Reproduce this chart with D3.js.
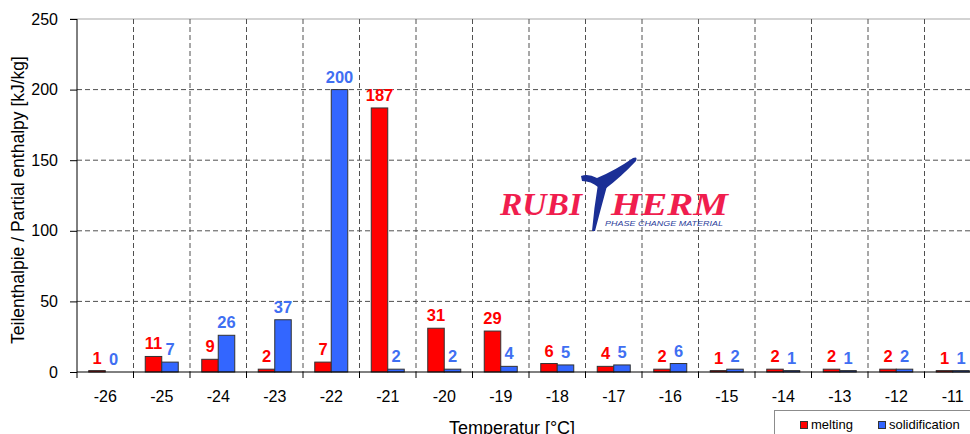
<!DOCTYPE html>
<html>
<head>
<meta charset="utf-8">
<script src="https://cdn.jsdelivr.net/npm/d3@7"></script>
<style>
  body { margin: 0; background: #fff; }
  svg { display: block; font-family: "Liberation Sans", Arial, sans-serif; }
</style>
</head>
<body>
<div id="container"></div>
<script>
// data
var temps = ["-26", "-25", "-24", "-23", "-22", "-21", "-20", "-19", "-18", "-17", "-16", "-15", "-14", "-13", "-12", "-11"];
var melting = [1, 11, 9, 2, 7, 187, 31, 29, 6, 4, 2, 1, 2, 2, 2, 1];
var solidification = [0, 7, 26, 37, 200, 2, 2, 4, 5, 5, 6, 2, 1, 1, 2, 1];
var yTicks = [0, 50, 100, 150, 200, 250];
var seriesNames = ["melting", "solidification"];

var barColor = { melting: "#ff0000", solidification: "#3366ff" };
var labelColor = { melting: "#ff0000", solidification: "#3f6ff2" };

var width = 970, height = 434;
var left = 77, top_ = 19, bottom = 372;

var svg = d3.select("#container").append("svg")
    .attr("width", width)
    .attr("height", height);

// categories run past the right edge of the window (the chart is cut there)
var x = d3.scaleBand()
    .domain(temps)
    .range([left, left + 16 * 56.5])
    .padding(0);

var y = d3.scaleLinear()
    .domain([0, 250])
    .range([bottom, top_]);

var half = 16.5;
var inner = d3.scaleBand()
    .domain(seriesNames)
    .range([x.bandwidth() / 2 - half, x.bandwidth() / 2 + half])
    .padding(0);

// horizontal grid
svg.append("g").selectAll("line")
    .data(yTicks.filter(function(d) { return d > 0 && d < 250; }))
    .enter().append("line")
    .attr("x1", left).attr("x2", width)
    .attr("y1", function(d) { return y(d); })
    .attr("y2", function(d) { return y(d); })
    .attr("stroke", "#505050")
    .attr("stroke-dasharray", "5,3");

// top border
svg.append("line")
    .attr("x1", 70).attr("x2", width)
    .attr("y1", y(250)).attr("y2", y(250))
    .attr("stroke", "#c4c4c4")
    .attr("stroke-width", 1.5);

// vertical dashed separators
svg.append("g").selectAll("line")
    .data(temps.slice(1))
    .enter().append("line")
    .attr("x1", function(d) { return x(d); })
    .attr("x2", function(d) { return x(d); })
    .attr("y1", y(250)).attr("y2", bottom)
    .attr("stroke", "#505050")
    .attr("stroke-dasharray", "5,3");

// logo
var logo = svg.append("g").attr("class", "logo");
logo.append("text")
    .attr("x", 500).attr("y", 215)
    .attr("textLength", 82).attr("lengthAdjust", "spacingAndGlyphs")
    .style("font-family", "'Liberation Serif', serif")
    .style("font-style", "italic").style("font-weight", "bold")
    .style("font-size", "32px")
    .attr("fill", "#f01e4e")
    .text("RUBI");
logo.append("text")
    .attr("x", 611).attr("y", 215)
    .attr("textLength", 117).attr("lengthAdjust", "spacingAndGlyphs")
    .style("font-family", "'Liberation Serif', serif")
    .style("font-style", "italic").style("font-weight", "bold")
    .style("font-size", "32px")
    .attr("fill", "#f01e4e")
    .text("HERM");
// the blue swoosh "T"
logo.append("path")
    .attr("d", "M581,176 Q588,173 597,178 Q616,170 633,158 Q638,156 636,161 Q621,177 605,189 L598,187 Q591,181 582,181 Z")
    .attr("fill", "#1b2f96");
logo.append("path")
    .attr("d", "M598,184 L607,186 Q601,208 595,231 L592,231 Q594,208 598,184 Z")
    .attr("fill", "#1b2f96");
logo.append("text")
    .attr("x", 605).attr("y", 226)
    .attr("textLength", 118).attr("lengthAdjust", "spacingAndGlyphs")
    .style("font-style", "italic")
    .style("font-size", "7.5px")
    .attr("fill", "#2b3c9a")
    .text("PHASE CHANGE MATERIAL");

// bars
var groups = svg.append("g").selectAll("g")
    .data(temps)
    .enter().append("g")
    .attr("transform", function(d) { return "translate(" + x(d) + ",0)"; });

groups.selectAll("rect")
    .data(function(d, i) {
        return [{ key: "melting", value: melting[i] }, { key: "solidification", value: solidification[i] }];
    })
    .enter().append("rect")
    .attr("x", function(d) { return inner(d.key); })
    .attr("y", function(d) { return y(d.value); })
    .attr("width", inner.bandwidth())
    .attr("height", function(d) { return bottom - y(d.value); })
    .attr("fill", function(d) { return barColor[d.key]; })
    .attr("stroke", function(d) { return d.value > 0 ? "#333" : "none"; })
    .attr("stroke-width", 1);

groups.selectAll("text")
    .data(function(d, i) {
        return [{ key: "melting", value: melting[i] }, { key: "solidification", value: solidification[i] }];
    })
    .enter().append("text")
    .attr("x", function(d) { return inner(d.key) + inner.bandwidth() / 2; })
    .attr("y", function(d) { return y(d.value) - 7; })
    .attr("text-anchor", "middle")
    .style("font-weight", "bold")
    .style("font-size", "16.5px")
    .attr("fill", function(d) { return labelColor[d.key]; })
    .text(function(d) { return d.value; });

// y axis
var yAxis = svg.append("g")
    .attr("transform", "translate(" + left + ",0)")
    .call(d3.axisLeft(y).tickValues(yTicks).tickSize(7).tickPadding(12));
yAxis.select(".domain").attr("stroke", "#000").attr("d", "M0," + y(250) + "V" + bottom);
yAxis.selectAll(".tick line").attr("stroke", "#000");
yAxis.selectAll(".tick text")
    .style("font-family", "'Liberation Sans', Arial, sans-serif")
    .style("font-size", "16px")
    .attr("fill", "#000");

// x axis line and ticks
svg.append("line")
    .attr("x1", left).attr("x2", width)
    .attr("y1", bottom).attr("y2", bottom)
    .attr("stroke", "#000");
svg.append("g").selectAll("line")
    .data(temps)
    .enter().append("line")
    .attr("x1", function(d) { return x(d); })
    .attr("x2", function(d) { return x(d); })
    .attr("y1", bottom).attr("y2", bottom + 6)
    .attr("stroke", "#000");
svg.append("g").selectAll("text")
    .data(temps)
    .enter().append("text")
    .attr("x", function(d) { return x(d) + x.bandwidth() / 2; })
    .attr("y", 402)
    .attr("text-anchor", "middle")
    .style("font-size", "16px")
    .text(function(d) { return d; });

// axis titles
svg.append("text")
    .attr("transform", "translate(24," + 200 + ") rotate(-90)")
    .attr("text-anchor", "middle")
    .style("font-size", "17.5px")
    .text("Teilenthalpie / Partial enthalpy [kJ/kg]");

svg.append("text")
    .attr("x", 512).attr("y", 434)
    .attr("text-anchor", "middle")
    .style("font-size", "18px")
    .text("Temperatur [°C]");

// legend
var legend = svg.append("g");
legend.append("rect")
    .attr("x", 774.5).attr("y", 410.5)
    .attr("width", 220).attr("height", 40)
    .attr("fill", "#fff")
    .attr("stroke", "#8c8c8c");
var legendX = { melting: 800, solidification: 878 };
seriesNames.forEach(function(k) {
    legend.append("rect")
        .attr("x", legendX[k] + 0.5).attr("y", 421.5)
        .attr("width", 7).attr("height", 7)
        .attr("fill", barColor[k])
        .attr("stroke", "#333");
    legend.append("text")
        .attr("x", legendX[k] + 11).attr("y", 429)
        .style("font-size", "13px")
        .text(k);
});
</script>
</body>
</html>
